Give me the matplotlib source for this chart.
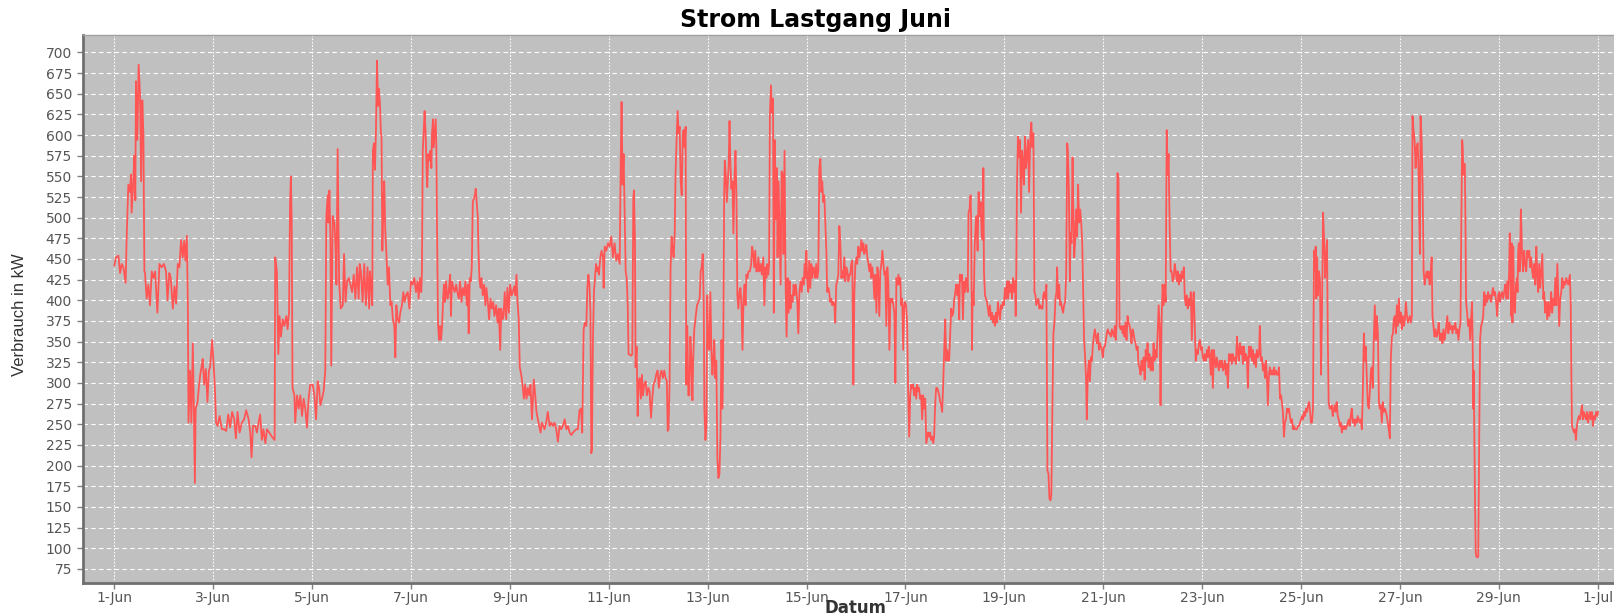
import matplotlib
matplotlib.use("Agg")
import matplotlib.pyplot as plt
import pandas as pd

# Stunden seit 1. Juni 00:00 und Verbrauch in kW
stunden = [
    0, 0.8, 2.0, 2.8, 3.6, 4.4, 5.5, 6.0, 6.8, 7.6, 8.1, 8.4,
    9.2, 9.7, 10.2, 10.5, 11.2, 11.8, 12.5, 13.0, 13.6, 14.1, 14.6, 14.9,
    15.7, 16.5, 17.3, 18.2, 19.0, 19.8, 20.9, 21.9, 23.0, 24.1, 25.1, 25.8,
    26.7, 27.4, 28.4, 29.2, 30.0, 30.8, 31.6, 32.4, 33.2, 33.9, 34.5, 35.2,
    35.7, 36.0, 36.8, 37.4, 38.1, 38.6, 39.1, 39.5, 40.4, 41.0, 41.7, 42.3,
    42.9, 43.6, 44.4, 45.2, 45.9, 46.5, 47.5, 48.1, 48.8, 49.4, 50.1, 51.1,
    52.2, 53.3, 54.3, 55.3, 56.2, 57.2, 58.2, 59.0, 59.8, 60.8, 61.9, 63.0,
    64.0, 65.2, 66.0, 66.6, 67.3, 68.4, 69.2, 70.0, 70.8, 71.6, 72.4, 73.3,
    74.1, 75.2, 76.5, 77.8, 78.1, 78.9, 79.6, 80.2, 80.9, 81.7, 82.5, 83.5,
    84.1, 84.8, 85.3, 85.7, 86.1, 86.5, 87.4, 87.8, 88.7, 89.5, 90.3, 91.1,
    91.9, 92.7, 93.5, 94.3, 95.1, 96.3, 97.1, 97.9, 98.7, 99.4, 100.0, 100.8,
    101.6, 102.4, 102.9, 103.6, 103.9, 104.4, 104.9, 105.3, 106.0, 106.8, 107.3, 107.8,
    108.4, 109.1, 109.9, 110.9, 111.5, 112.2, 113.0, 113.8, 114.6, 115.4, 116.2, 117.0,
    117.8, 118.6, 119.1,
    # 6.-11. Juni
    119.7, 120.5, 121.3, 122.1, 122.9, 123.7, 124.1, 124.7, 125.2, 125.5, 126.0, 126.5,
    127.0, 127.5, 128.0, 128.4, 128.9, 129.4, 129.7, 130.1, 130.5, 131.0, 131.5, 132.0,
    132.7, 133.3, 134.0, 134.6, 135.2, 135.9, 136.4, 136.9, 137.5, 138.2, 138.8, 139.6,
    140.3, 140.9, 141.6, 142.4, 143.2, 144.0, 144.8, 145.6, 146.4, 147.2, 147.7, 148.4,
    149.0, 149.3, 149.7, 150.2, 150.6, 151.1, 151.6, 151.9, 152.4, 152.9, 153.4, 153.9,
    154.2, 154.7, 155.0, 155.5, 156.0, 156.3, 156.6, 157.1, 157.6, 158.1, 158.6, 159.1,
    159.6, 160.0, 160.5, 161.0, 161.7, 162.3, 163.0, 163.4, 163.9, 164.6, 165.2, 165.9,
    166.5, 167.2, 167.8, 168.5, 169.1, 169.8, 170.4, 171.1, 171.6, 172.0, 172.5, 173.0,
    173.5, 174.0, 174.5, 175.0, 175.4, 175.9, 176.4, 176.7, 177.2, 177.7, 178.2, 178.8,
    179.5, 180.1, 180.6, 181.3, 181.9, 182.6, 183.2, 183.9, 184.5, 185.3, 186.0, 186.6,
    187.3, 187.8, 188.4, 188.9, 189.5, 190.2, 190.8, 191.5, 192.1, 192.8, 193.4, 194.1,
    194.7, 195.2, 195.7, 196.3, 196.8, 197.5, 198.1, 198.8, 199.4, 200.1, 200.7, 201.4,
    202.0, 202.7, 203.2, 203.6, 204.3, 204.9, 205.6, 206.2, 206.9, 207.5, 208.2, 208.8,
    209.6, 210.4, 211.3, 212.1, 212.9, 213.7, 214.5, 215.3, 216.1, 216.9, 217.7, 218.6,
    219.4, 220.2, 221.0, 221.8, 222.6, 223.4, 224.2, 225.0, 225.8, 226.5, 227.1, 227.8,
    228.4, 229.1, 229.6, 230.1, 230.6, 231.1, 231.5, 231.8, 232.3, 232.8, 233.3, 233.8,
    234.3, 234.8, 235.2, 235.9, 236.5, 237.2, 237.5, 238.0, 238.8, 239.6, 240.4, 241.2,
    242.0, 242.8, 243.6, 244.4, 245.3, 245.8, 246.2, 246.7, 247.2, 247.7, 248.2, 248.7,
    249.2, 249.6,
    # 11.-16. Juni
    250.9, 251.4, 251.9, 252.2, 252.7, 253.0, 253.5, 254.0, 254.5, 255.0, 255.6, 256.1,
    256.6, 257.2, 257.9, 258.5, 259.2, 259.8, 260.5, 261.1, 261.7, 262.4, 263.0, 263.7,
    264.3, 265.0, 265.6, 266.3, 266.9, 267.6, 268.2, 268.6, 269.0, 269.5, 270.0, 270.5,
    271.0, 271.5, 272.0, 272.4, 272.9, 273.4, 273.9, 274.4, 274.9, 275.4, 275.9, 276.3,
    276.8, 277.3, 277.6, 278.1, 278.6, 279.1, 279.6, 280.1, 280.6, 281.0, 281.5, 282.2,
    282.8, 283.5, 284.1, 284.6, 285.1, 285.6, 286.1, 286.4, 286.9, 287.4, 287.8, 288.3,
    288.8, 289.3, 289.8, 290.3, 290.8, 291.2, 291.7, 292.2, 292.7, 293.2, 293.7, 294.2,
    294.7, 295.2, 295.6, 296.0, 296.3, 296.8, 297.3, 297.7, 298.2, 298.6, 299.0, 299.5,
    300.0, 300.5, 301.0, 301.5, 302.0, 302.4, 302.9, 303.4, 303.9, 304.4, 304.9, 305.4,
    305.9, 306.4, 306.8, 307.3, 307.8, 308.5, 309.1, 309.6, 310.1, 310.6, 311.1, 311.6,
    312.1, 312.6, 313.1, 313.7, 314.3, 315.0, 315.5, 316.0, 316.5, 316.9, 317.4, 317.8,
    318.2, 318.7, 319.2, 319.7, 320.1, 320.6, 321.1, 321.6, 321.9, 322.4, 322.9, 323.4,
    323.9, 324.4, 324.8, 325.3, 325.8, 326.3, 326.8, 327.3, 327.8, 328.2, 328.7, 329.2,
    329.7, 330.2, 330.8, 331.5, 332.0, 332.5, 333.1, 333.6, 334.1, 334.6, 335.1, 335.5,
    335.9, 336.3, 336.8, 337.3, 337.8, 338.3, 338.8, 339.3, 339.8, 340.2, 340.7, 341.2,
    341.7, 342.2, 342.7, 343.2, 343.6, 344.1, 344.6, 345.1, 345.6, 346.0, 346.6, 347.0,
    347.5, 348.0, 348.5, 349.0, 349.5, 349.9, 350.4, 350.9, 351.4, 351.9, 352.4, 352.9,
    353.4, 353.8, 354.3, 354.8, 355.3, 355.8, 356.3, 356.8, 357.2, 357.7, 358.2, 358.7,
    359.2, 359.7, 360.2, 360.6, 361.1, 361.6, 362.1, 362.6, 363.1, 363.6, 364.0, 364.5,
    365.0, 365.5, 366.0, 366.5, 367.0, 367.4, 367.9, 368.4, 368.9, 369.4, 369.9, 370.4,
    370.8, 371.3, 371.8, 372.3, 372.8, 373.3, 373.8, 374.2, 374.7, 375.2, 375.7, 376.2,
    376.7, 377.2, 377.6, 378.1, 378.6, 379.1, 379.6, 380.1, 380.6, 381.0, 381.5,
    # 16.-22. Juni
    381.9, 382.4, 382.9, 383.4, 383.8, 384.3, 384.8, 385.3, 385.8, 386.3, 386.8, 387.2,
    387.7, 388.2, 388.7, 389.2, 389.7, 390.2, 390.6, 391.1, 391.6, 392.1, 392.6, 393.1,
    393.6, 394.1, 394.5, 395.0, 395.5, 396.0, 396.5, 397.0, 397.5, 397.9, 398.4, 398.9,
    399.4, 399.9, 400.4, 400.9, 401.3, 401.8, 402.3, 402.8, 403.3, 403.8, 404.3, 404.7,
    405.2, 405.7, 406.2, 406.7, 407.2, 407.7, 408.2, 408.6, 409.1, 409.6, 410.1, 410.4,
    410.9, 411.4, 411.9, 412.4, 412.9, 413.3, 413.8, 414.2, 414.6, 415.1, 415.6, 415.9,
    416.3, 416.6, 417.1, 417.6, 418.1, 418.5, 419.0, 419.5, 420.0, 420.5, 421.0, 421.5,
    421.8, 422.1, 422.6, 423.1, 423.6, 424.0, 424.5, 425.0, 425.5, 426.0, 426.5, 427.0,
    427.4, 427.9, 428.4, 428.9, 429.4, 429.9, 430.4, 430.8, 431.3, 431.8, 432.3, 432.8,
    433.3, 433.8, 434.3, 434.7, 435.2, 435.7, 436.2, 436.7, 437.2, 437.5, 437.8, 438.1,
    438.6, 439.1, 439.6, 440.1, 440.6, 441.1, 441.5, 442.0, 442.5, 443.0, 443.5, 444.0,
    444.5, 444.8, 445.1, 445.6, 446.1, 446.6, 447.1, 447.5, 448.0, 448.5, 449.0, 449.5,
    450.0, 450.5, 450.9, 451.4, 451.9, 452.4, 452.9, 453.4, 453.9, 454.4, 454.8, 455.3,
    455.8, 456.3, 456.8, 457.3, 457.6, 458.1, 458.6, 459.1, 459.5, 460.0, 460.5, 461.0,
    461.5, 462.0, 462.5, 462.8, 463.3, 463.8, 464.1, 464.6, 465.1, 465.4, 465.9, 466.3,
    466.8, 467.3, 467.8, 468.3, 468.8, 469.3, 469.8, 470.2, 470.7, 471.2, 471.7, 472.0,
    472.5, 473.0, 473.5, 474.0, 474.5, 474.9, 475.4, 475.9, 476.4, 476.9, 477.4, 477.9,
    478.4, 478.8, 479.3, 479.8, 480.3, 480.8, 481.3, 481.7, 482.2, 482.7, 483.2, 483.7,
    484.2, 484.7, 485.2, 485.6, 486.1, 486.5, 486.9, 487.4, 487.9, 488.4, 488.9, 489.4,
    489.9, 490.3, 490.8, 491.3, 491.8, 492.3, 492.8, 493.3, 493.7, 494.2, 494.7, 495.2,
    495.7, 496.2, 496.7, 497.1, 497.6, 498.1, 498.6, 499.1, 499.6, 500.1, 500.6, 501.0,
    501.5, 502.0, 502.5, 503.0, 503.5, 504.0, 504.4, 504.9, 505.4, 505.9, 506.4, 506.9,
    507.4, 507.8, 508.3, 508.8, 509.3, 509.8, 510.3, 510.8, 511.3, 511.7, 512.2, 512.7,
    # 22.-27. Juni
    513.2, 513.7, 514.2, 514.7, 515.2, 515.7, 516.2, 516.7, 517.1, 517.6, 518.1, 518.6,
    519.1, 519.6, 520.1, 520.5, 521.0, 521.5, 522.0, 522.5, 523.0, 523.5, 523.9, 524.4,
    524.9, 525.4, 525.9, 526.4, 526.9, 527.4, 527.8, 528.3, 528.8, 529.3, 529.8, 530.3,
    530.8, 531.2, 531.7, 532.2, 532.7, 533.2, 533.7, 534.2, 534.6, 535.1, 535.6, 536.1,
    536.6, 537.1, 537.6, 538.1, 538.5, 539.0, 539.5, 540.0, 540.5, 541.0, 541.5, 541.9,
    542.4, 542.9, 543.4, 543.9, 544.4, 544.9, 545.3, 545.8, 546.3, 546.8, 547.3, 547.8,
    548.3, 548.7, 549.2, 549.7, 550.2, 550.7, 551.2, 551.7, 552.2, 552.6, 553.1, 553.6,
    554.1, 554.6, 555.1, 555.6, 556.0, 556.5, 557.0, 557.5, 558.0, 558.5, 559.0, 559.4,
    559.9, 560.4, 560.9, 561.4, 561.9, 562.4, 562.9, 563.3, 563.8, 564.3, 564.8, 565.3,
    565.8, 566.3, 566.7, 567.2, 567.7, 568.2, 568.7, 569.2, 569.7, 570.1, 570.6, 571.1,
    571.6, 572.1, 572.6, 573.1, 573.6, 574.0, 574.5, 575.0, 575.5, 576.0, 576.5, 577.0,
    577.4, 577.9, 578.4, 578.9, 579.4, 579.9, 580.4, 580.8, 581.3, 581.8, 582.3, 582.8,
    583.1, 583.4, 583.8, 584.2, 584.7, 585.2, 585.7, 586.2, 586.7, 587.2, 587.7, 588.1,
    588.6, 589.0, 589.4, 589.9, 590.4, 590.9, 591.4, 591.9, 592.4, 592.8, 593.3, 593.8,
    594.3, 594.8, 595.3, 595.8, 596.2, 596.7, 597.2, 597.7, 598.2, 598.7, 599.2, 599.6,
    600.1, 600.6, 601.1, 601.6, 602.1, 602.6, 603.1, 603.5, 604.0, 604.5, 605.0, 605.5,
    606.0, 606.5, 606.9, 607.4, 607.9, 608.4, 608.9, 609.4, 609.9, 610.3, 610.8, 611.3,
    611.8, 612.3, 612.8, 613.3, 613.8, 614.2, 614.7, 615.2, 615.7, 616.2, 616.7, 617.2,
    617.6, 618.1, 618.6, 619.1, 619.6, 620.1, 620.6, 621.0, 621.5, 622.0, 622.5, 623.0,
    623.5, 624.0, 624.5, 624.9, 625.4, 625.9, 626.4, 626.9, 627.4, 627.9, 628.3, 628.8,
    629.3, 629.8, 630.1, 630.6, 631.1, 631.6, 632.1, 632.6, 633.0, 633.4, 633.7, 634.0,
    634.5, 635.0, 635.5, 636.0, 636.4, 636.9, 637.4, 637.9, 638.4, 638.9, 639.4, 639.8,
    640.3, 640.8, 641.3, 641.8, 642.3, 642.8, 643.4,
    # 27.-30. Juni
    643.6, 644.1, 644.6, 645.1, 645.6, 646.1, 646.5, 647.0, 647.5, 648.0, 648.5, 649.0,
    649.5, 650.0, 650.4, 650.9, 651.4, 651.9, 652.4, 652.9, 653.4, 653.8, 654.2, 654.5,
    654.8, 655.1, 655.5, 655.8, 656.1, 656.6, 657.1, 657.6, 658.1, 658.5, 659.0, 659.4,
    659.5, 659.8, 660.2, 660.5, 660.8, 661.1, 661.6, 662.0, 662.3, 662.6, 662.9, 663.4,
    663.9, 664.4, 664.9, 665.4, 665.8, 666.3, 666.8, 667.3, 667.8, 668.3, 668.8, 669.2,
    669.7, 670.2, 670.7, 671.2, 671.7, 672.2, 672.6, 673.1, 673.6, 674.1, 674.6, 675.1,
    675.6, 676.1, 676.5, 677.0, 677.3, 677.7, 678.0, 678.3, 678.6, 679.0, 679.3, 679.8,
    680.3, 680.8, 681.1, 681.4, 681.7, 682.1, 682.4, 682.7, 683.0, 683.3, 683.8, 684.3,
    684.8, 685.3, 685.8, 686.3, 686.8, 687.2, 687.7, 688.2, 688.7, 689.2, 689.7, 690.2,
    690.6, 691.1, 691.6, 692.1, 692.6, 693.1, 693.6, 694.0, 694.5, 695.0, 695.5, 696.0,
    696.5, 697.0, 697.4, 697.9, 698.4, 698.9, 699.4, 699.9, 700.4, 700.9, 701.3, 701.8,
    702.3, 702.8, 703.3, 703.8, 704.3, 704.7, 705.2, 705.7, 706.2, 706.5, 706.9, 707.2,
    707.5, 708.0, 708.5, 709.0, 709.4, 709.9, 710.4, 710.9, 711.4, 711.9, 712.4, 712.8,
    713.3, 713.8, 714.3, 714.8, 715.3, 715.8, 716.2, 716.7, 717.2, 717.7, 718.2, 718.7,
    719.2, 719.8, 720.1,
]

kw = [
    442, 452, 454, 433, 444, 440, 421, 477, 540, 531, 552, 506,
    544, 575, 521, 665, 594, 685, 648, 544, 642, 602, 435, 433,
    402, 419, 394, 435, 427, 435, 385, 444, 440, 444, 435, 400,
    433, 427, 390, 417, 396, 444, 440, 473, 452, 472, 448, 478,
    394, 252, 315, 252, 348, 269, 179, 269, 277, 294, 310, 319,
    329, 298, 317, 277, 315, 319, 352, 327, 294, 252, 248, 260,
    244, 244, 242, 262, 246, 265, 256, 233, 265, 240, 252, 256,
    267, 256, 240, 210, 248, 248, 240, 252, 262, 231, 244, 227,
    244, 240, 235, 231, 452, 435, 335, 381, 356, 377, 369, 381,
    365, 385, 519, 550, 494, 294, 285, 252, 285, 269, 285, 260,
    281, 269, 246, 281, 298, 298, 285, 256, 302, 294, 273, 281,
    290, 315, 502, 527, 494, 533, 473, 321, 502, 494, 469, 419,
    583, 423, 390, 394, 456, 398, 423, 427, 419, 410, 431, 402,
    440, 402, 444,
    # 6.-11. Juni
    435, 398, 444, 394, 440, 390, 435, 415, 394, 581, 590, 558,
    606, 690, 635, 656, 640, 602, 598, 460, 506, 544, 485, 460,
    419, 440, 394, 398, 377, 369, 331, 394, 377, 373, 385, 394,
    410, 398, 406, 410, 390, 423, 419, 427, 410, 423, 402, 427,
    410, 435, 581, 606, 629, 602, 552, 537, 577, 569, 581, 560,
    602, 619, 585, 602, 619, 585, 498, 373, 352, 369, 352, 369,
    402, 419, 398, 423, 402, 410, 431, 381, 423, 415, 410, 419,
    410, 402, 423, 398, 415, 406, 423, 394, 419, 360, 427, 423,
    440, 519, 523, 527, 535, 519, 502, 465, 427, 415, 427, 406,
    419, 394, 415, 398, 377, 402, 390, 398, 381, 394, 373, 390,
    340, 390, 377, 381, 410, 377, 415, 385, 419, 406, 410, 417,
    406, 431, 398, 377, 319, 310, 298, 281, 298, 281, 294, 285,
    298, 256, 281, 304, 285, 265, 256, 248, 240, 252, 248, 244,
    252, 265, 248, 252, 248, 252, 244, 229, 248, 244, 248, 256,
    244, 248, 240, 237, 240, 242, 244, 244, 267, 269, 240, 365,
    373, 369, 415, 431, 419, 385, 215, 219, 352, 410, 427, 444,
    435, 440, 431, 452, 460, 452, 415, 465, 460, 469, 465, 477,
    452, 469, 448, 456, 444, 569, 640, 540, 577, 502, 435, 427,
    394, 335,
    # 11.-16. Juni
    333, 335, 523, 533, 473, 319, 344, 260, 302, 306, 281, 310,
    285, 298, 302, 285, 294, 290, 258, 281, 298, 302, 310, 315,
    294, 310, 315, 306, 315, 306, 302, 242, 244, 298, 440, 477,
    460, 452, 481, 552, 594, 629, 602, 610, 544, 527, 598, 606,
    585, 610, 298, 369, 285, 285, 356, 327, 279, 331, 365, 381,
    394, 398, 402, 435, 440, 456, 394, 269, 231, 248, 406, 344,
    340, 410, 340, 310, 331, 352, 306, 327, 210, 185, 190, 235,
    352, 269, 356, 527, 569, 552, 519, 540, 565, 617, 569, 535,
    544, 481, 548, 581, 519, 406, 390, 410, 415, 394, 340, 402,
    419, 394, 431, 427, 435, 435, 444, 465, 456, 440, 460, 435,
    435, 452, 435, 444, 431, 452, 394, 440, 427, 444, 431, 444,
    623, 660, 627, 644, 385, 594, 498, 560, 452, 544, 481, 419,
    556, 552, 456, 581, 423, 356, 427, 385, 423, 390, 406, 398,
    419, 406, 419, 398, 360, 410, 423, 410, 427, 419, 444, 427,
    460, 427, 410, 448, 415, 444, 427, 440, 435, 427, 444, 427,
    435, 560, 571, 531, 544, 519, 527, 494, 460, 410, 415, 410,
    398, 402, 394, 398, 394, 373, 419, 423, 431, 490, 469, 427,
    435, 427, 452, 423, 440, 435, 423, 431, 431, 444, 448, 298,
    410, 444, 452, 444, 465, 452, 460, 473, 460, 469, 456, 460,
    467, 452, 444, 435, 444, 427, 440, 427, 402, 431, 385, 440,
    427, 381, 435, 444, 460, 444, 431, 435, 369, 440, 419, 340,
    402, 398, 402, 394, 385, 300, 427, 419, 431, 419, 427,
    # 16.-22. Juni
    394, 402, 340, 394, 398, 394, 373, 290, 235, 285, 298, 294,
    298, 285, 294, 281, 298, 290, 294, 281, 285, 256, 285, 269,
    281, 227, 233, 240, 235, 240, 231, 235, 227, 235, 273, 294,
    294, 290, 285, 277, 273, 265, 298, 340, 377, 327, 340, 327,
    327, 360, 390, 381, 385, 402, 410, 419, 406, 419, 377, 431,
    423, 431, 377, 423, 410, 427, 423, 410, 506, 510, 527, 494,
    340, 410, 394, 465, 494, 502, 460, 531, 502, 519, 477, 473,
    560, 435, 406, 402, 398, 390, 381, 394, 377, 385, 373, 381,
    369, 385, 373, 398, 385, 377, 394, 390, 398, 394, 415, 402,
    423, 402, 423, 410, 419, 402, 427, 410, 423, 381, 435, 535,
    598, 573, 594, 506, 581, 565, 540, 598, 560, 577, 594, 531,
    590, 606, 615, 585, 602, 410, 406, 394, 398, 402, 390, 394,
    390, 390, 406, 410, 402, 419, 194, 190, 160, 158, 165, 269,
    360, 373, 402, 410, 440, 402, 419, 394, 398, 390, 385, 394,
    398, 431, 590, 581, 535, 423, 481, 469, 573, 519, 452, 469,
    510, 477, 540, 494, 510, 494, 469, 419, 352, 331, 302, 256,
    310, 327, 302, 331, 327, 344, 356, 365, 356, 348, 360, 340,
    348, 344, 340, 331, 344, 344, 352, 360, 365, 360, 360, 356,
    365, 360, 356, 369, 352, 373, 554, 548, 369, 365, 369, 360,
    369, 356, 373, 352, 381, 373, 369, 360, 348, 365, 360, 352,
    348, 340, 344, 323, 319, 310, 327, 315, 331, 304, 340, 327,
    348, 319, 335, 315, 331, 315, 348, 327, 340, 331, 360, 394,
    365, 273, 373, 419, 394, 419, 398, 606, 552, 577, 494, 435,
    # 22.-27. Juni
    435, 423, 427, 444, 435, 423, 435, 419, 431, 423, 435, 427,
    440, 402, 394, 406, 390, 402, 394, 410, 352, 398, 410, 369,
    327, 340, 335, 348, 352, 340, 344, 331, 327, 335, 327, 340,
    331, 344, 335, 310, 340, 294, 340, 327, 319, 331, 323, 315,
    327, 319, 327, 315, 319, 327, 310, 323, 294, 335, 327, 335,
    323, 335, 327, 331, 323, 356, 340, 327, 348, 335, 344, 323,
    344, 327, 335, 331, 294, 344, 331, 344, 327, 340, 323, 335,
    319, 340, 331, 335, 369, 327, 331, 315, 323, 306, 327, 310,
    273, 310, 319, 310, 315, 310, 319, 310, 315, 310, 310, 319,
    281, 285, 277, 265, 235, 252, 256, 269, 265, 269, 260, 252,
    256, 244, 248, 244, 244, 244, 248, 248, 252, 256, 260, 256,
    265, 260, 269, 265, 273, 277, 265, 252, 252, 269, 460, 435,
    465, 402, 452, 406, 435, 423, 310, 394, 506, 473, 427, 452,
    473, 352, 277, 269, 269, 273, 260, 269, 273, 265, 277, 260,
    256, 248, 252, 240, 248, 244, 248, 244, 248, 252, 256, 248,
    260, 269, 252, 256, 248, 256, 252, 260, 256, 252, 256, 244,
    290, 360, 327, 344, 310, 273, 269, 290, 315, 319, 294, 352,
    394, 352, 381, 360, 277, 269, 273, 252, 277, 265, 269, 265,
    260, 252, 244, 233, 331, 356, 360, 377, 381, 360, 394, 369,
    402, 373, 385, 365, 381, 369, 377, 398, 381, 373, 377, 381,
    373, 381, 623, 606, 594, 560, 585, 590, 560, 494, 456, 623,
    598, 540, 435, 419, 427, 435, 427, 435, 419, 431, 452, 381,
    369, 356, 365, 356, 360, 373, 352,
    # 27.-30. Juni
    352, 360, 348, 365, 352, 360, 369, 381, 360, 373, 365, 369,
    360, 369, 365, 373, 360, 365, 352, 365, 373, 494, 594, 585,
    552, 565, 565, 494, 398, 385, 369, 377, 352, 377, 398, 327,
    269, 315, 219, 144, 94, 90, 89, 90, 185, 269, 352, 369,
    373, 381, 410, 394, 406, 398, 410, 402, 406, 398, 410, 415,
    406, 410, 398, 381, 406, 410, 398, 406, 410, 402, 410, 419,
    402, 423, 402, 435, 481, 435, 381, 469, 373, 465, 402, 385,
    419, 427, 410, 460, 469, 435, 460, 510, 485, 452, 435, 460,
    444, 435, 460, 452, 460, 440, 452, 435, 427, 444, 419, 465,
    435, 410, 444, 415, 435, 456, 402, 410, 385, 398, 377, 398,
    381, 394, 410, 385, 402, 394, 427, 394, 444, 402, 369, 402,
    410, 427, 415, 423, 419, 427, 423, 419, 427, 431, 394, 310,
    248, 244, 240, 244, 231, 248, 256, 260, 256, 265, 273, 256,
    265, 260, 256, 265, 252, 260, 265, 256, 265, 248, 260, 256,
    265, 260, 265,
]

y_ticks = list(range(75, 701, 25))
tag_ticks = pd.date_range("2023-06-01", "2023-07-01", freq="2D")

start = pd.Timestamp("2023-06-01")
zeit = start + pd.to_timedelta(stunden, unit="h")

fig = plt.figure(figsize=(16.14, 6.16), dpi=100)
ax = fig.add_axes([83 / 1614, 33 / 616, 1531 / 1614, 548 / 616])
ax.set_facecolor("#C0C0C0")
ax.set_axisbelow(True)

ax.plot(zeit, kw, color="#FF5555", lw=1.3)

ax.set_ylim(58, 721)
ax.set_yticks(y_ticks)
ax.set_xlim(start - pd.Timedelta(hours=15.2), start + pd.Timedelta(hours=727.9))
ax.set_xticks(tag_ticks)
ax.set_xticklabels([f"{t.day}-{t.strftime('%b')}" for t in tag_ticks])

ax.yaxis.grid(True, color="white", linestyle=(0, (4, 3)), lw=0.8)
ax.xaxis.grid(True, color="white", linestyle=(0, (1.5, 1.5)), lw=0.8)

for s in ["left", "bottom"]:
    ax.spines[s].set_color("#707070")
    ax.spines[s].set_linewidth(2)
ax.spines["top"].set_color("#A0A0A0")
ax.spines["top"].set_linewidth(1)
ax.spines["right"].set_visible(False)

ax.tick_params(axis="both", colors="#808080", labelcolor="#555555",
               labelsize=10, length=4, width=1, direction="out")
ax.tick_params(axis="y", pad=4)
ax.tick_params(axis="x", pad=2)

fig.text(816 / 1614, 1 - 20 / 616, "Strom Lastgang Juni", ha="center",
         va="center", fontsize=17, fontweight="bold")
fig.text(855 / 1614, 1 - 608 / 616, "Datum", ha="center", va="center",
         fontsize=12, fontweight="bold", color="#333333")
fig.text(20 / 1614, 1 - 315 / 616, "Verbrauch in kW", ha="center",
         va="center", rotation=90, fontsize=12, color="#333333",
         family=["Liberation Sans Narrow", "Liberation Sans", "DejaVu Sans"])

fig.savefig("out.png", dpi=100, facecolor="white")
